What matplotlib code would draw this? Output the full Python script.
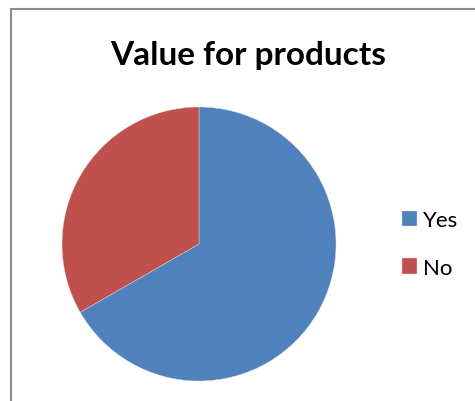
import matplotlib
matplotlib.use("Agg")
import matplotlib.pyplot as plt
from matplotlib.patches import Rectangle

labels = ["Yes", "No"]
values = [66.7, 33.3]
colors = ["#4F81BD", "#C0504D"]

W, H = 475, 402

def main():
    plt.rcParams["font.family"] = ["Lato", "DejaVu Sans"]

    fig = plt.figure(figsize=(W / 100, H / 100), dpi=100)

    # chart frame (runs off the right and bottom edges)
    fig.patches.append(Rectangle((10.5 / W, -0.1), 1.2, (H - 9.5) / H + 0.1,
                                 transform=fig.transFigure, fill=False,
                                 edgecolor="#8c8c8c", linewidth=1.5))

    cx, cy, r = 199, 245, 137
    ax = fig.add_axes([(cx - r) / W, (H - cy - r) / H, 2 * r / W, 2 * r / H])
    wedges, _ = ax.pie(values, colors=colors, startangle=90, counterclock=False,
                       radius=1.0, wedgeprops=dict(linewidth=0.3, edgecolor="#dddddd"))
    ax.set_xlim(-1, 1)
    ax.set_ylim(-1, 1)
    ax.set_aspect("equal")

    fig.text(248 / W, 1 - 55 / H, "Value for products", ha="center", va="center",
             fontsize=24, fontweight="bold", color="black")

    fig.legend(wedges, labels, loc="center left",
               bbox_to_anchor=(402 / W, 1 - 245 / H),
               frameon=False, fontsize=16, handlelength=0.68, handleheight=0.68,
               handletextpad=0.25, labelspacing=1.25, borderpad=0, borderaxespad=0)

    fig.savefig("out.png", dpi=100)

if __name__ == "__main__":
    main()
